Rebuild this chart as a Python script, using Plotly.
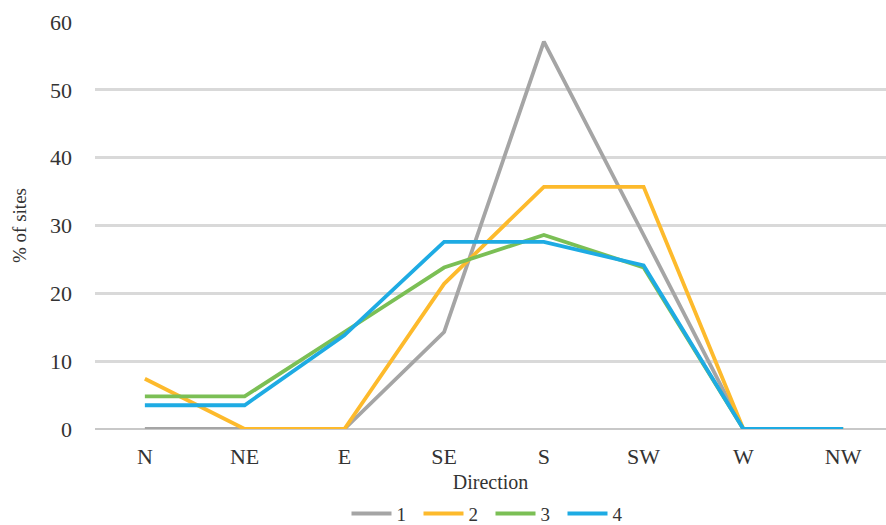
import plotly.graph_objects as go

directions = ["N", "NE", "E", "SE", "S", "SW", "W", "NW"]
series_names = ["1", "2", "3", "4"]
s1 = [0, 0, 0, 14.3, 57.1, 28.6, 0, 0]
s2 = [7.4, 0, 0, 21.4, 35.7, 35.7, 0, 0]
s3 = [4.8, 4.8, 14.3, 23.8, 28.6, 23.8, 0, 0]
s4 = [3.5, 3.5, 13.8, 27.6, 27.6, 24.1, 0, 0]
y_ticks = [0, 10, 20, 30, 40, 50, 60]

colors = ["#A5A5A5", "#FDBA2C", "#7BBF55", "#1EABE3"]
serif = "Liberation Serif, Times New Roman, serif"
ink = "#333333"

fig = go.Figure()
for name, vals, col in zip(series_names, [s1, s2, s3, s4], colors):
    fig.add_trace(go.Scatter(
        x=list(range(len(directions))), y=vals, name=name, mode="lines",
        line=dict(color=col, width=3.8),
    ))

fig.update_layout(
    width=886, height=525,
    margin=dict(l=95, r=0, t=22, b=96, autoexpand=False),
    plot_bgcolor="white", paper_bgcolor="white",
    font=dict(family=serif, color=ink),
    showlegend=True,
    legend=dict(orientation="h", x=0.5, xanchor="center", y=-0.208, yanchor="middle",
                font=dict(size=19, family=serif, color=ink),
                itemwidth=40, entrywidth=17, entrywidthmode="pixels", tracegroupgap=0),
    xaxis=dict(
        tickmode="array", tickvals=list(range(len(directions))), ticktext=directions,
        range=[-0.5, 7.43], showgrid=False, zeroline=False, automargin=False,
        showline=False, ticks="", ticklabelstandoff=12,
        tickfont=dict(size=22, family=serif, color=ink),
        title=dict(text="Direction", font=dict(size=20, family=serif, color=ink), standoff=6),
    ),
    yaxis=dict(
        range=[0, 60], tickvals=y_ticks, showgrid=True, gridcolor="#D9D9D9", gridwidth=3,
        zeroline=True, zerolinecolor="#C8C8C8", zerolinewidth=1.5, automargin=False,
        showline=False, ticks="", ticklabelstandoff=22,
        tickfont=dict(size=22, family=serif, color=ink),
        title=dict(text="% of sites", font=dict(size=19, family=serif, color=ink), standoff=18),
    ),
)

fig.write_html("out.html")
